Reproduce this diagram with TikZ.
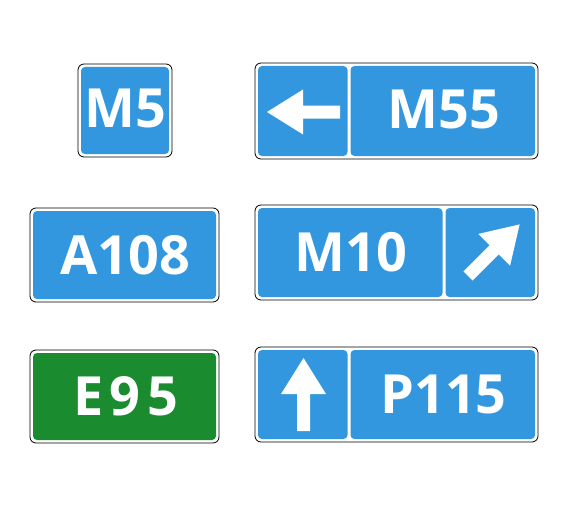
\documentclass[tikz,border=0pt]{standalone}
\usepackage{fontspec}
\newfontfamily\signfont{Open Sans}[BoldFont={* Bold}]
\definecolor{signblue}{RGB}{50,151,222}
\definecolor{signgreen}{RGB}{26,140,47}
\begin{document}
\begin{tikzpicture}[x=1pt, y=-1pt,
		frame/.style={draw=black, line width=0.8pt, fill=white, rounded corners=6pt},
		panel/.style={fill=signblue, rounded corners=4pt},
		greenpanel/.style={fill=signgreen, rounded corners=4pt},
		signtext/.style={anchor=base, inner sep=0pt, text=white, font=\signfont\bfseries\fontsize{54}{54}\selectfont},
		arrowshape/.style={fill=white}]
		\useasboundingbox (0, 0) rectangle (569, 508);
		
		\draw[frame] (78, 64) rectangle (172, 157);
		\fill[panel] (81, 67) rectangle (169, 154);
		\node[signtext] (m5) at (125, 127) {M5};
		
		\draw[frame] (255, 63) rectangle (538, 159);
		\fill[panel] (258, 66) rectangle (347.5, 156);
		\fill[panel] (350.5, 66) rectangle (535, 156);
		\fill[arrowshape, shift={(340, 112)}, rotate=180] (0, -6.5) -- (37, -6.5) -- (37, -22.5) -- (73, 0) -- (37, 22.5) -- (37, 6.5) -- (0, 6.5) -- cycle;
		\node[signtext] (m55) at (444, 128) {M55};
		
		\draw[frame] (30, 208) rectangle (219, 302);
		\fill[panel] (33, 211) rectangle (216, 299);
		\node[signtext] (a108) at (125, 274) {A108};
		
		\draw[frame] (255, 205) rectangle (538, 300);
		\fill[panel] (258, 208) rectangle (442.5, 297);
		\fill[panel] (445.5, 208) rectangle (535, 297);
		\node[signtext] (m10) at (351, 271.5) {M10};
		\fill[arrowshape, shift={(468, 276)}, rotate=45] (0, -6.5) -- (37, -6.5) -- (37, -22.5) -- (73, 0) -- (37, 22.5) -- (37, 6.5) -- (0, 6.5) -- cycle;
		
		\draw[frame] (30, 350) rectangle (219, 443);
		\fill[greenpanel] (33, 353) rectangle (216, 440);
		\node[signtext] (e95) at (125.5, 415) {\addfontfeature{LetterSpace=12}E95};
		
		\draw[frame] (255, 347) rectangle (538, 442);
		\fill[panel] (258, 350) rectangle (347.5, 439);
		\fill[panel] (350.5, 350) rectangle (535, 439);
		\fill[arrowshape, shift={(303.5, 431)}, rotate=90] (0, -6.5) -- (37, -6.5) -- (37, -22.5) -- (73, 0) -- (37, 22.5) -- (37, 6.5) -- (0, 6.5) -- cycle;
		\node[signtext] (p115) at (443.5, 413.5) {P115};
	\end{tikzpicture}
\end{document}
